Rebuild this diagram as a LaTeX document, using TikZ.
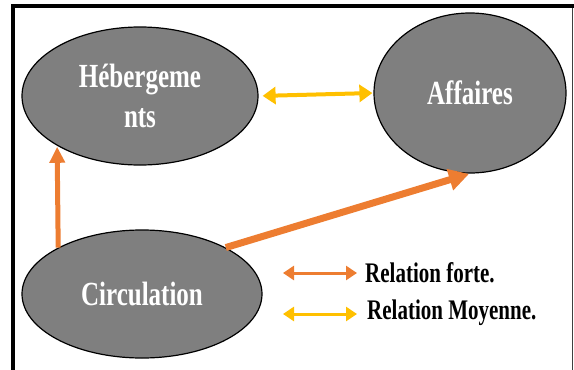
\documentclass[tikz,border=0pt]{standalone}
\usepackage{fontspec}
\setmainfont{Liberation Serif}
\usepackage{tikz}
\usetikzlibrary{shapes.geometric, arrows.meta}

\definecolor{fillgray}{HTML}{7F7F7F}
\definecolor{strongorange}{HTML}{ED7D31}
\definecolor{midyellow}{HTML}{FFC000}

\newcommand{\tallword}[1]{\scalebox{1}[1.35]{#1}}

\tikzset{
    theme/.style={ellipse, draw=black, line width=1.2pt, fill=fillgray, inner sep=0pt,
        text=white, font=\fontsize{25}{30}\selectfont\bfseries, align=center},
    legtext/.style={anchor=west, inner sep=0pt, font=\fontsize{21}{25}\selectfont\bfseries},
    forte/.style={strongorange, line width=5pt, -{Triangle[length=16pt, width=15pt]}},
    fortewide/.style={strongorange, line width=7pt, -{Triangle[length=20pt, width=21pt]}},
    moyenne/.style={midyellow, line width=4pt, {Triangle[length=13pt, width=17pt]}-{Triangle[length=13pt, width=17pt]}},
    legforte/.style={strongorange, line width=3pt, {Triangle[length=11pt, width=14pt]}-{Triangle[length=11pt, width=14pt]}},
    legmoyenne/.style={midyellow, line width=3pt, {Triangle[length=11pt, width=14pt]}-{Triangle[length=11pt, width=14pt]}}
}

\begin{document}
\begin{tikzpicture}[x=1pt, y=-1pt]
        \useasboundingbox (0,0) rectangle (574,370);

        % cadre
        \draw[line width=4pt] (13,372) -- (13,6) -- (576,6);
        \draw[line width=1pt, black!75] (572.5,8) -- (572.5,372);

        \node[theme, minimum width=236pt, minimum height=138pt] (heb)  at (140,96)
            {\tallword{Hébergeme}\\[10pt]\tallword{nts}};
        \node[theme, minimum width=192pt, minimum height=160pt] (aff)  at (470,93)
            {\tallword{Affaires}};
        \node[theme, minimum width=240pt, minimum height=128pt] (circ) at (142,294)
            {\tallword{Circulation}};

        \draw[moyenne, shorten <=4pt, shorten >=1pt] (heb.east) -- (aff.west);
        \draw[forte, shorten >=1pt] (circ.151) -- (heb.211);
        \draw[fortewide, shorten >=1pt] (circ.29) -- (aff.south);

        % legende
        \node[legtext] (forteText)   at (365,273) {\tallword{Relation forte.}};
        \node[legtext] (moyenneText) at (367,313) {\tallword{Relation Moyenne.}};
        \coordinate (forteL)   at (283,273);
        \coordinate (forteR)   at (357,273);
        \coordinate (moyenneL) at (283,314);
        \coordinate (moyenneR) at (357,314);

        \draw[legforte]   (forteL) -- (forteR);
        \draw[legmoyenne] (moyenneL) -- (moyenneR);
\end{tikzpicture}
\end{document}
